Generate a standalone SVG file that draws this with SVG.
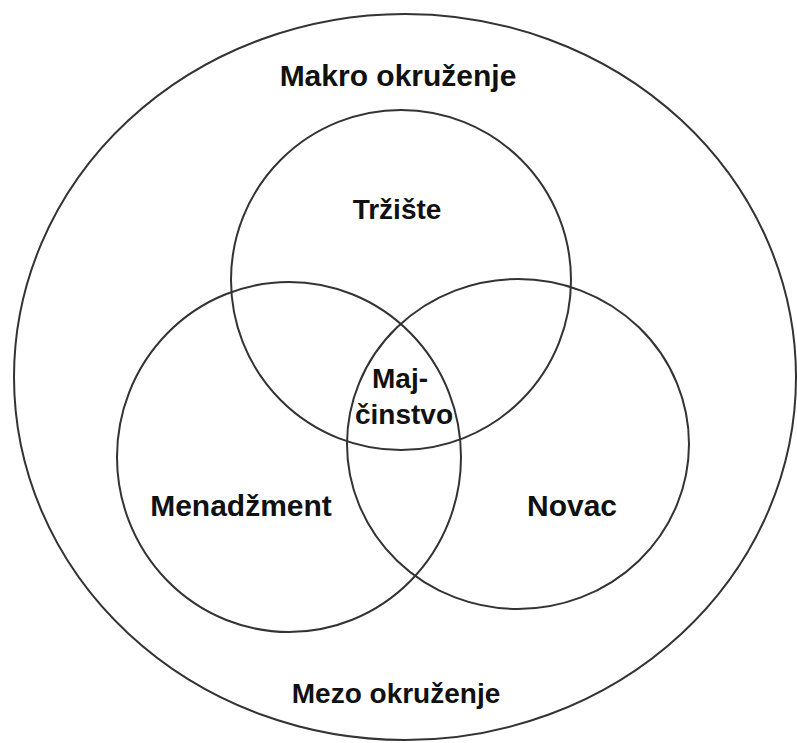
<svg xmlns="http://www.w3.org/2000/svg" width="797" height="743" viewBox="0 0 797 743">
<style>
.c{fill:none;stroke:#333;stroke-width:2}
.t{font-family:"Liberation Sans",Arial,sans-serif;font-weight:bold;fill:#111;text-anchor:middle}
</style>
<rect width="797" height="743" fill="#fff"/>
<g id="makro">
<ellipse class="c" cx="405" cy="377" rx="391" ry="363"/>
<text class="t" x="398" y="86" font-size="30">Makro okruženje</text>
<text class="t" x="396" y="703" font-size="28">Mezo okruženje</text>
</g>
<g id="trziste">
<ellipse class="c" cx="401" cy="280" rx="170" ry="170"/>
<text class="t" x="397" y="219" font-size="28">Tržište</text>
</g>
<g id="menadzment">
<ellipse class="c" cx="289" cy="457" rx="172" ry="175"/>
<text class="t" x="241" y="516" font-size="30">Menadžment</text>
</g>
<g id="novac">
<ellipse class="c" cx="518" cy="444" rx="171" ry="165"/>
<text class="t" x="572" y="516" font-size="30">Novac</text>
</g>
<g id="majcinstvo">
<text class="t" x="400" y="388" font-size="28">Maj-</text>
<text class="t" x="404" y="424" font-size="28">činstvo</text>
</g>
<g id="connectors"></g>
</svg>
